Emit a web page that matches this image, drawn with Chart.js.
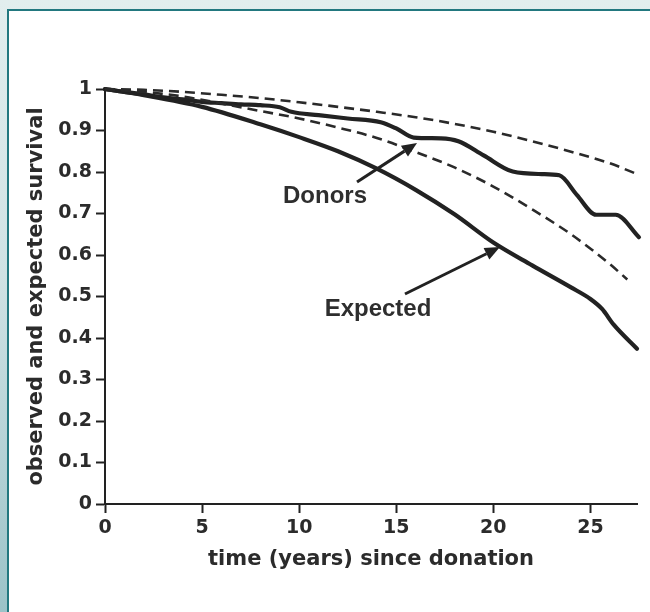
<!DOCTYPE html>
<html>
<head>
<meta charset="utf-8">
<script src="https://cdn.jsdelivr.net/npm/chart.js@4.4.1/dist/chart.umd.min.js"></script>
<style>
  html, body { margin: 0; padding: 0; width: 650px; height: 612px; overflow: hidden; }
  body { background: linear-gradient(to bottom, #e2eeee 0%, #cfe2e4 45%, #9bc3c8 100%); position: relative; }
  #panel { position: absolute; left: 7px; top: 9px; right: 0; bottom: 0; background: #fff;
           border-top: 2px solid #22787f; border-left: 2px solid #22787f; }
  #wrap { position: absolute; left: 0; top: 0; width: 650px; height: 612px; }
</style>
</head>
<body>
<div id="panel"></div>
<div id="wrap"><canvas id="c" width="650" height="612"></canvas></div>
<script>
// Observed survival of donors vs. expected survival, with the two dashed bounds
const donorYears    = [0, 1, 2, 3, 4, 5, 6, 7, 8, 9, 9.6, 11, 12.5, 14.2, 15, 15.9, 17.3, 18.2, 19.5, 21, 22.5, 23.4, 24.3, 25.3, 26.3, 27.5];
const donorSurvival = [1, 0.993, 0.987, 0.98, 0.975, 0.969, 0.966, 0.963, 0.961, 0.956, 0.945, 0.937, 0.929, 0.92, 0.905, 0.883, 0.881, 0.874, 0.84, 0.801, 0.795, 0.792, 0.745, 0.697, 0.697, 0.643];

const expectedYears    = [0, 2, 5, 8, 10, 12, 14, 16, 18, 20, 22, 24, 25, 25.6, 26.2, 27.4];
const expectedSurvival = [1, 0.985, 0.957, 0.915, 0.884, 0.85, 0.808, 0.757, 0.698, 0.63, 0.575, 0.522, 0.494, 0.47, 0.432, 0.374];

const upperBoundYears    = [0, 2, 4, 6, 8, 10, 12, 14, 16, 18, 20, 22, 24, 26, 27.4];
const upperBoundSurvival = [1, 0.998, 0.993, 0.986, 0.978, 0.968, 0.957, 0.945, 0.932, 0.916, 0.897, 0.874, 0.849, 0.821, 0.795];

const lowerBoundYears    = [0, 2, 4, 6, 8, 10, 12, 14, 16, 18, 20, 22, 24, 26, 26.9];
const lowerBoundSurvival = [1, 0.993, 0.982, 0.965, 0.947, 0.929, 0.907, 0.882, 0.848, 0.811, 0.765, 0.71, 0.65, 0.578, 0.541];

const xTickValues = [0, 5, 10, 15, 20, 25];
const yTickValues = [0, 0.1, 0.2, 0.3, 0.4, 0.5, 0.6, 0.7, 0.8, 0.9, 1];
const yTickLabels = ['0', '0.1', '0.2', '0.3', '0.4', '0.5', '0.6', '0.7', '0.8', '0.9', '1'];

const xTitle = 'time (years) since donation';
const yTitle = 'observed and expected survival';

// Callout labels with arrows, placed in data units
const callouts = [
  { text: 'Donors',   label: [11.33, 0.742], tail: [12.98, 0.776], tip: [16.07, 0.870] },
  { text: 'Expected', label: [14.06, 0.470], tail: [15.45, 0.506], tip: [20.34, 0.619] }
];

const ink = '#222222';
const zip = (xs, ys) => xs.map((x, i) => ({ x, y: ys[i] }));

const calloutPlugin = {
  id: 'callouts',
  afterDatasetsDraw(chart) {
    const { ctx, scales: { x, y } } = chart;
    ctx.save();
    callouts.forEach(c => {
      const tx = x.getPixelForValue(c.tail[0]), ty = y.getPixelForValue(c.tail[1]);
      const hx = x.getPixelForValue(c.tip[0]),  hy = y.getPixelForValue(c.tip[1]);
      const ang = Math.atan2(hy - ty, hx - tx);
      const headLen = 15, headHalf = 6.5;
      const bx = hx - headLen * Math.cos(ang), by = hy - headLen * Math.sin(ang);
      ctx.strokeStyle = ink; ctx.fillStyle = ink; ctx.lineWidth = 3; ctx.lineCap = 'butt';
      ctx.beginPath(); ctx.moveTo(tx, ty); ctx.lineTo(bx, by); ctx.stroke();
      ctx.beginPath();
      ctx.moveTo(hx, hy);
      ctx.lineTo(bx + headHalf * Math.sin(ang), by - headHalf * Math.cos(ang));
      ctx.lineTo(bx - headHalf * Math.sin(ang), by + headHalf * Math.cos(ang));
      ctx.closePath(); ctx.fill();
      ctx.fillStyle = '#2e2e2e';
      ctx.font = 'bold 24px "Liberation Sans", Arial, sans-serif';
      ctx.textAlign = 'center'; ctx.textBaseline = 'middle';
      ctx.fillText(c.text, x.getPixelForValue(c.label[0]), y.getPixelForValue(c.label[1]));
    });
    ctx.restore();
  }
};

const solid = { borderColor: ink, borderWidth: 4.2, pointRadius: 0, fill: false, cubicInterpolationMode: 'monotone', clip: false, borderCapStyle: 'round', borderJoinStyle: 'round' };
const dashed = { borderColor: '#2a2a2a', borderWidth: 2.6, borderDash: [10, 6], pointRadius: 0, fill: false, cubicInterpolationMode: 'monotone', clip: false };

const tickFont = { family: '"DejaVu Sans", sans-serif', size: 19, weight: 'bold' };
const titleFont = { family: '"DejaVu Sans", sans-serif', size: 21, weight: 'bold' };

new Chart(document.getElementById('c'), {
  type: 'line',
  data: {
    datasets: [
      { label: 'Upper bound', data: zip(upperBoundYears, upperBoundSurvival), ...dashed },
      { label: 'Lower bound', data: zip(lowerBoundYears, lowerBoundSurvival), ...dashed },
      { label: 'Expected', data: zip(expectedYears, expectedSurvival), ...solid },
      { label: 'Donors', data: zip(donorYears, donorSurvival), ...solid }
    ]
  },
  options: {
    responsive: false,
    animation: false,
    events: [],
    layout: { padding: { left: 0, top: 89, right: 13, bottom: 0 } },
    plugins: { legend: { display: false }, tooltip: { enabled: false } },
    scales: {
      x: {
        type: 'linear', min: 0, max: 27.4,
        afterBuildTicks: s => { s.ticks = xTickValues.map(v => ({ value: v })); },
        afterFit: s => { s.height = 108; },
        border: { color: ink, width: 2 },
        grid: { drawOnChartArea: false, drawTicks: true, tickLength: 9, tickColor: ink, tickWidth: 2 },
        ticks: { color: '#2b2b2b', font: tickFont, padding: 4, maxRotation: 0 },
        title: { display: true, text: xTitle, color: '#2b2b2b', font: titleFont, padding: { top: 0, bottom: 40 } }
      },
      y: {
        type: 'linear', min: 0, max: 1,
        afterBuildTicks: s => { s.ticks = yTickValues.map(v => ({ value: v })); },
        afterFit: s => { s.width = 105; },
        border: { color: ink, width: 2 },
        grid: { drawOnChartArea: false, drawTicks: true, tickLength: 9, tickColor: ink, tickWidth: 2 },
        ticks: { color: '#2b2b2b', font: tickFont, padding: 4,
                 callback: v => yTickLabels[yTickValues.findIndex(t => Math.abs(t - v) < 1e-9)] },
        title: { display: true, text: yTitle, color: '#2b2b2b', font: titleFont, padding: { top: 24, bottom: 0 } }
      }
    }
  },
  plugins: [calloutPlugin]
});
</script>
</body>
</html>
